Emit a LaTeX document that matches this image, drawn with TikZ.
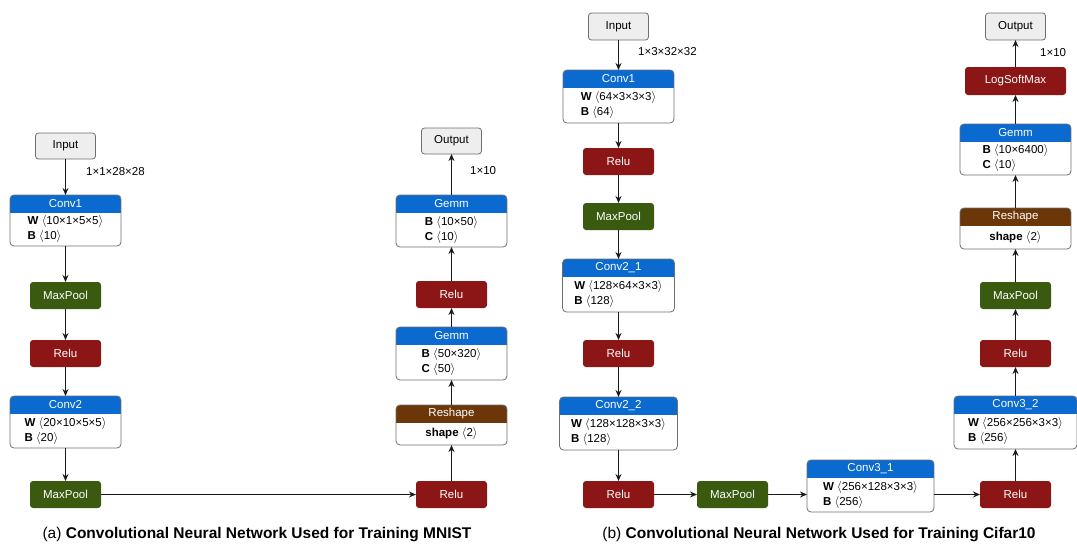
\documentclass[tikz,border=0pt]{standalone}
\usepackage{fontspec}
\setmainfont{Liberation Sans}
\usetikzlibrary{calc,arrows.meta}

\definecolor{convblue}{HTML}{0A6ACF}
\definecolor{relured}{HTML}{8C1515}
\definecolor{poolgreen}{HTML}{3A5A10}
\definecolor{shapebrown}{HTML}{6B3608}
\definecolor{iogray}{HTML}{EEEEEE}
\definecolor{edgegray}{HTML}{6E6E6E}
\definecolor{wiregray}{HTML}{1A1A1A}

% tensor shape in angle brackets
\newcommand\dims[1]{\ $\langle$#1$\rangle$}

\tikzset{
  every node/.style={font=\fontsize{11.5}{15}\selectfont},
  opnode/.style={rounded corners=3pt, minimum width=71pt, minimum height=27pt,
    text=white, outer sep=0pt, inner sep=0pt},
  ionode/.style={draw=edgegray, line width=0.8pt, fill=iogray, rounded corners=3pt,
    minimum width=60pt, minimum height=26pt, outer sep=0pt, inner sep=0pt},
  frame/.style={outer sep=0pt, inner sep=0pt},
  frameline/.style={draw=edgegray, line width=0.8pt, rounded corners=4pt},
  headtext/.style={text=white, inner sep=0pt},
  bodytext/.style={align=left, inner sep=0pt},
  dimlabel/.style={anchor=west, inner sep=0pt},
  arr/.style={draw=wiregray, line width=1.1pt, -{Stealth[length=7pt,width=6pt]}},
  caption/.style={font=\fontsize{15.5}{18}\selectfont, inner sep=0pt}
}

% layer box with a coloured title bar: name, x, y, width, height, colour, title, body
\newcommand\nnlayer[8]{%
  \node[frame, minimum width=#4, minimum height=#5] (#1) at (#2,#3) {};
  \begin{scope}
    \clip[rounded corners=4pt] (#1.north west) rectangle (#1.south east);
    \fill[#6] (#1.north west) rectangle ([yshift=-17.5pt]#1.north east);
  \end{scope}
  \path[frameline] (#1.north west) rectangle (#1.south east);
  \node[headtext] (#1-t) at ([yshift=-9pt]#1.north) {#7};
  \node[bodytext] (#1-b) at ($([yshift=-17.5pt]#1.north)!0.5!(#1.south)$) {#8};
}

\begin{document}
\begin{tikzpicture}[x=1pt, y=-1pt]
\useasboundingbox (0,0) rectangle (1077,544);

% ---------- (a) MNIST network ----------
\node[ionode] (inA) at (65.5,146) {Input};
\nnlayer{c1A}{65.5}{220.5}{111pt}{51pt}{convblue}{Conv1}{\textbf{W}\dims{10×1×5×5}\\\textbf{B}\dims{10}}
\node[opnode, fill=poolgreen] (mp1A) at (65.5,295.5) {MaxPool};
\node[opnode, fill=relured] (r1A) at (65.5,353.5) {Relu};
\nnlayer{c2A}{65.5}{422}{111pt}{52pt}{convblue}{Conv2}{\textbf{W}\dims{20×10×5×5}\\\textbf{B}\dims{20}}
\node[opnode, fill=poolgreen] (mp2A) at (65.5,494.5) {MaxPool};
\node[opnode, fill=relured] (r2A) at (451.5,494.5) {Relu};
\nnlayer{rsA}{451.5}{425}{111pt}{40pt}{shapebrown}{Reshape}{\textbf{shape}\dims{2}}
\nnlayer{g1A}{451.5}{353.5}{111pt}{53pt}{convblue}{Gemm}{\textbf{B}\dims{50×320}\\\textbf{C}\dims{50}}
\node[opnode, fill=relured] (r3A) at (451.5,294.5) {Relu};
\nnlayer{g2A}{451.5}{221}{111pt}{52pt}{convblue}{Gemm}{\textbf{B}\dims{10×50}\\\textbf{C}\dims{10}}
\node[ionode] (outA) at (451.5,141) {Output};

\node[dimlabel] (lblA1) at (86,172) {1×1×28×28};
\node[dimlabel] (lblA2) at (470,171) {1×10};

\draw[arr] (inA) -- (c1A);
\draw[arr] (c1A) -- (mp1A);
\draw[arr] (mp1A) -- (r1A);
\draw[arr] (r1A) -- (c2A);
\draw[arr] (c2A) -- (mp2A);
\draw[arr] (mp2A) -- (r2A);
\draw[arr] (r2A) -- (rsA);
\draw[arr] (rsA) -- (g1A);
\draw[arr] (g1A) -- (r3A);
\draw[arr] (r3A) -- (g2A);
\draw[arr] (g2A) -- (outA);

\node[caption] (capA) at (257,535) {(a) \textbf{Convolutional Neural Network Used for Training MNIST}};

% ---------- (b) Cifar10 network ----------
\node[ionode, minimum height=27pt] (inB) at (618.5,26.5) {Input};
\nnlayer{c1B}{618.5}{96.5}{111pt}{53pt}{convblue}{Conv1}{\textbf{W}\dims{64×3×3×3}\\\textbf{B}\dims{64}}
\node[opnode, fill=relured] (r1B) at (618.5,161.5) {Relu};
\node[opnode, fill=poolgreen] (mp1B) at (618.5,216.5) {MaxPool};
\nnlayer{c21B}{618.5}{285.5}{112pt}{53pt}{convblue}{Conv2\_1}{\textbf{W}\dims{128×64×3×3}\\\textbf{B}\dims{128}}
\node[opnode, fill=relured] (r2B) at (618.5,353.5) {Relu};
\nnlayer{c22B}{618.5}{423.5}{118pt}{53pt}{convblue}{Conv2\_2}{\textbf{W}\dims{128×128×3×3}\\\textbf{B}\dims{128}}
\node[opnode, fill=relured] (r3B) at (618.5,494.5) {Relu};
\node[opnode, fill=poolgreen] (mp2B) at (732.5,494.5) {MaxPool};
\nnlayer{c31B}{870.5}{486}{127pt}{52pt}{convblue}{Conv3\_1}{\textbf{W}\dims{256×128×3×3}\\\textbf{B}\dims{256}}
\node[opnode, fill=relured] (r4B) at (1015.5,494.5) {Relu};
\nnlayer{c32B}{1015.5}{422.5}{123pt}{53pt}{convblue}{Conv3\_2}{\textbf{W}\dims{256×256×3×3}\\\textbf{B}\dims{256}}
\node[opnode, fill=relured] (r5B) at (1015.5,353.5) {Relu};
\node[opnode, fill=poolgreen] (mp3B) at (1015.5,295.5) {MaxPool};
\nnlayer{rsB}{1015.5}{228.5}{111pt}{41pt}{shapebrown}{Reshape}{\textbf{shape}\dims{2}}
\nnlayer{gB}{1015.5}{149.5}{111pt}{51pt}{convblue}{Gemm}{\textbf{B}\dims{10×6400}\\\textbf{C}\dims{10}}
\node[opnode, fill=relured, minimum width=101pt, minimum height=28pt] (lsB) at (1015.5,81) {LogSoftMax};
\node[ionode, minimum height=27pt] (outB) at (1015.5,26.5) {Output};

\node[dimlabel] (lblB1) at (638,52) {1×3×32×32};
\node[dimlabel] (lblB2) at (1040,53) {1×10};

\draw[arr] (inB) -- (c1B);
\draw[arr] (c1B) -- (r1B);
\draw[arr] (r1B) -- (mp1B);
\draw[arr] (mp1B) -- (c21B);
\draw[arr] (c21B) -- (r2B);
\draw[arr] (r2B) -- (c22B);
\draw[arr] (c22B) -- (r3B);
\draw[arr] (r3B) -- (mp2B);
\draw[arr] (mp2B.east) -- (mp2B.east -| c31B.west);
\draw[arr] (r4B.west -| c31B.east) -- (r4B.west);
\draw[arr] (r4B) -- (c32B);
\draw[arr] (c32B) -- (r5B);
\draw[arr] (r5B) -- (mp3B);
\draw[arr] (mp3B) -- (rsB);
\draw[arr] (rsB) -- (gB);
\draw[arr] (gB) -- (lsB);
\draw[arr] (lsB) -- (outB);

\node[caption] (capB) at (819,535) {(b) \textbf{Convolutional Neural Network Used for Training Cifar10}};

\end{tikzpicture}
\end{document}
